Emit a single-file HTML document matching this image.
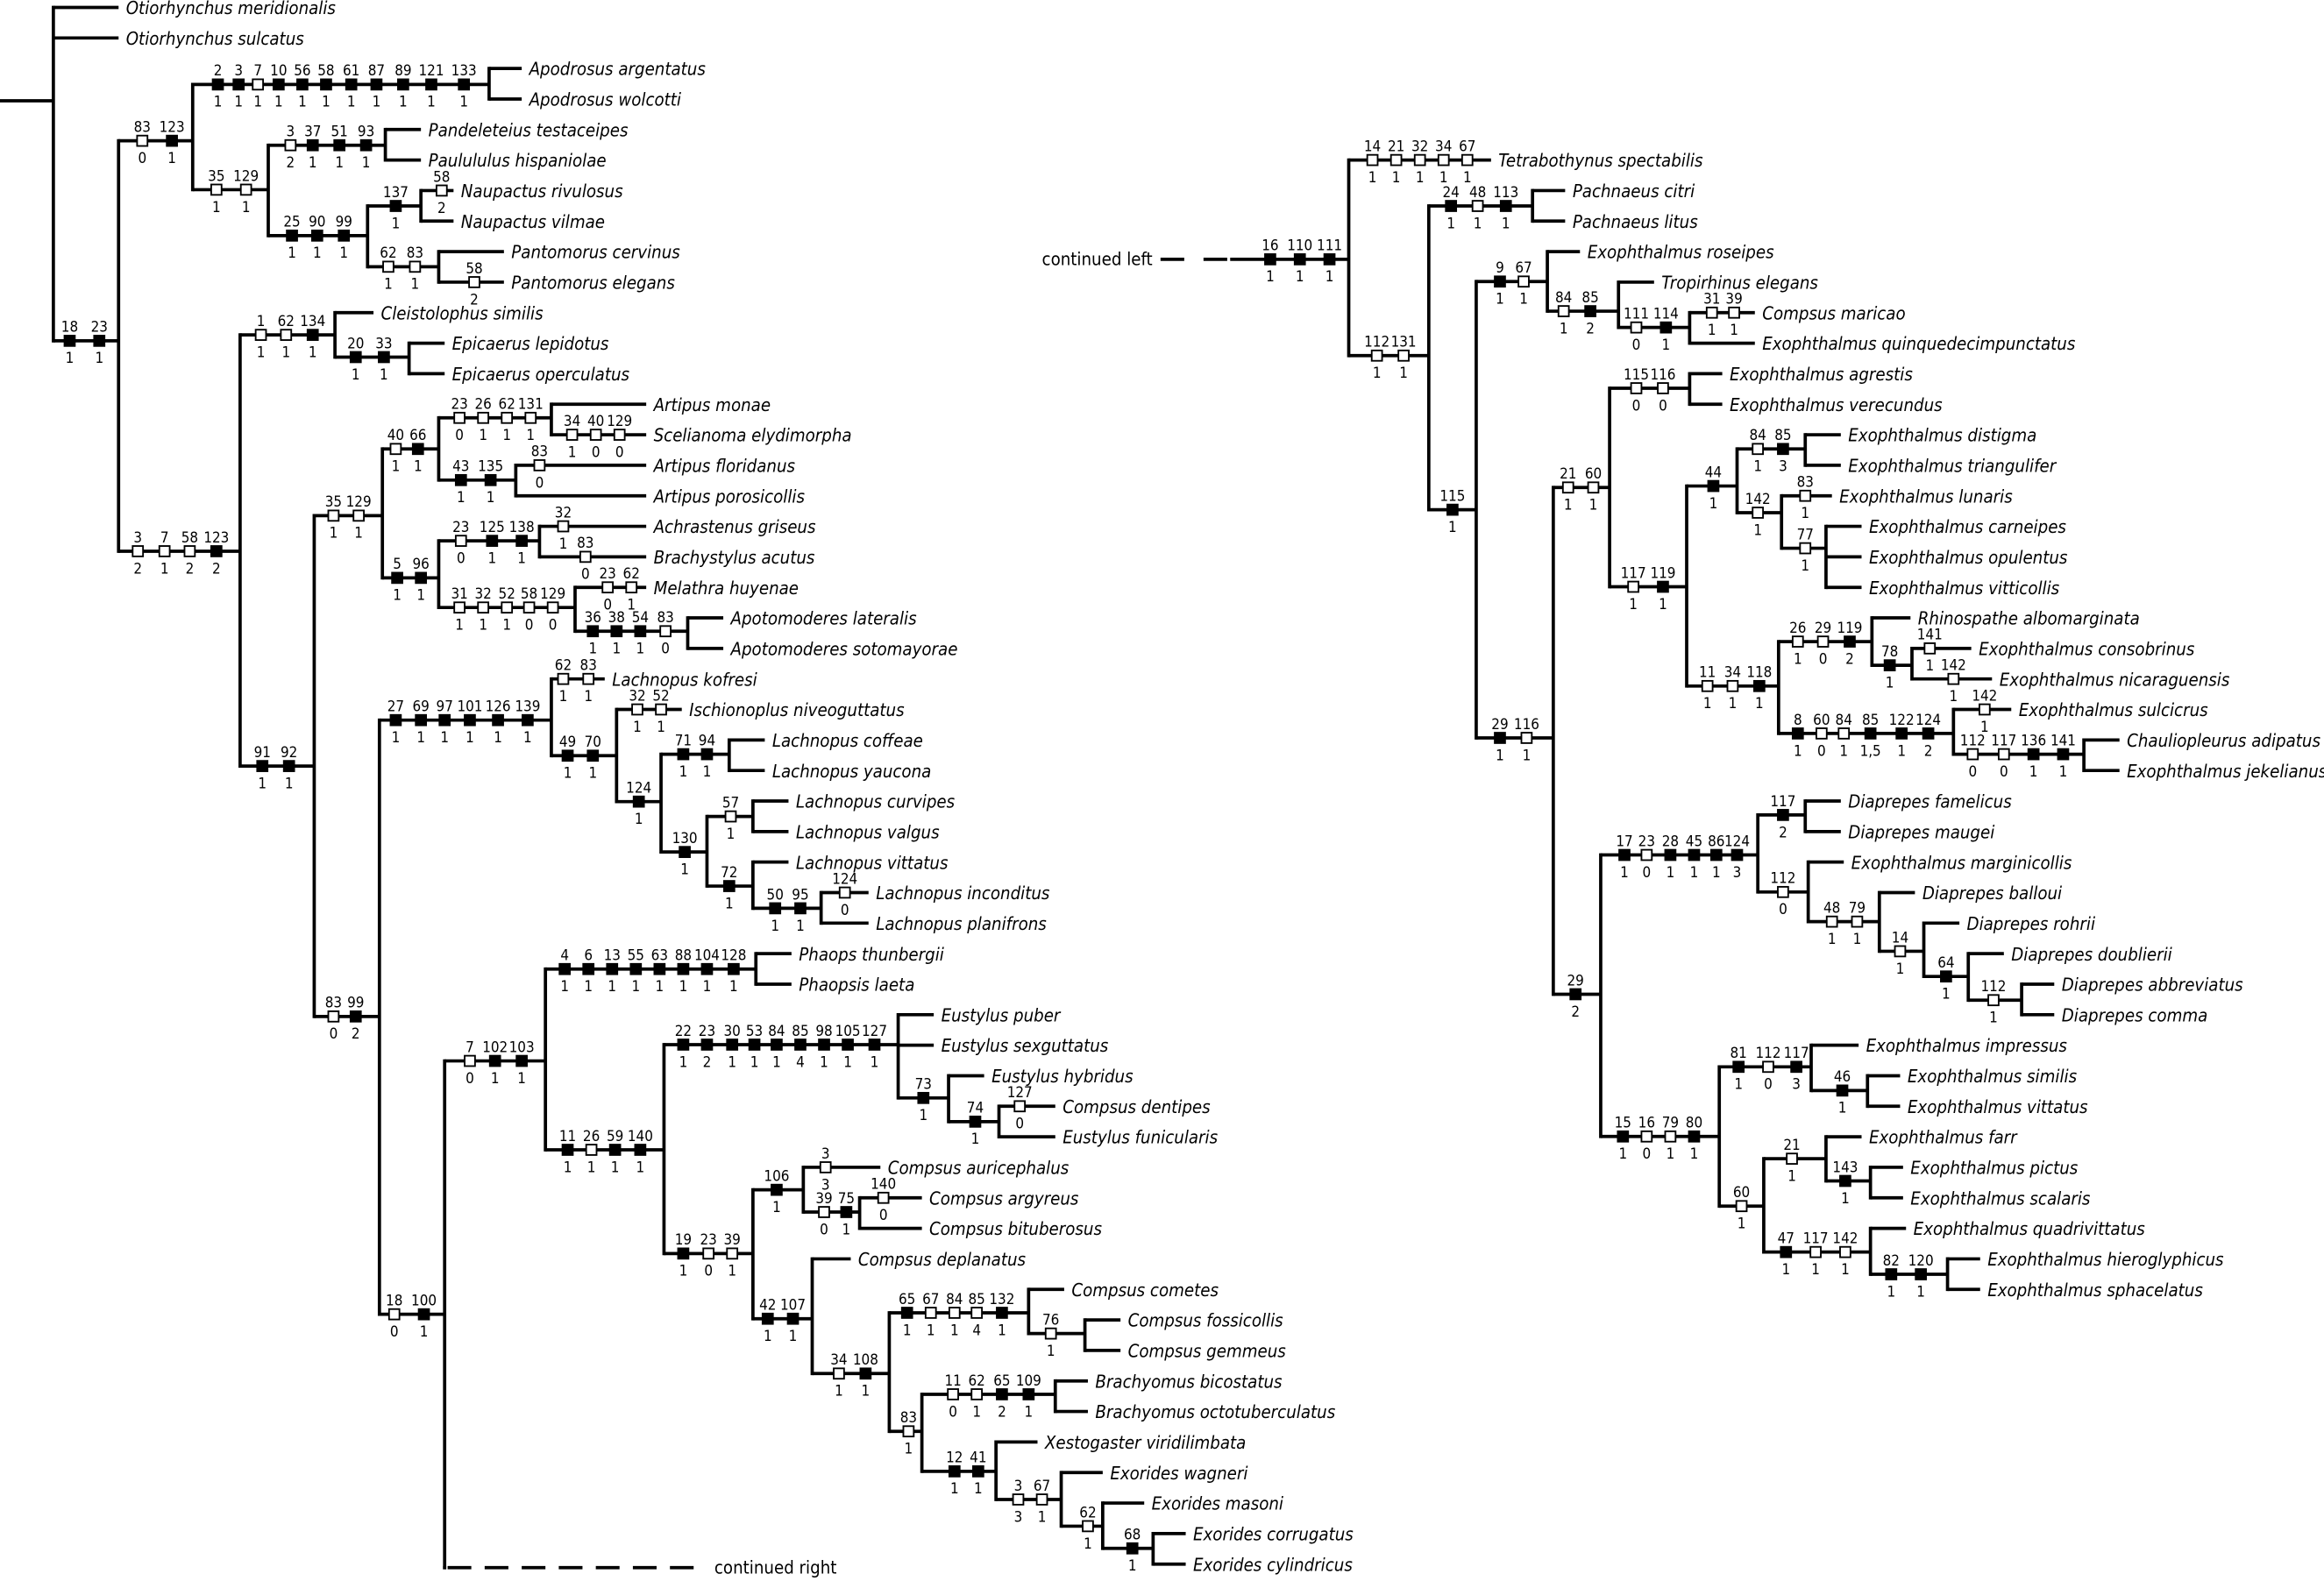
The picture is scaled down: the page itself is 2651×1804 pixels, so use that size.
<!DOCTYPE html>
<html><head><meta charset="utf-8"><style>
html,body{margin:0;padding:0;background:#fff;}
svg{display:block}
text{font-family:"DejaVu Sans Condensed","DejaVu Sans","Liberation Sans",sans-serif;fill:#000}
.lf{font-style:italic;font-size:12px}
.n{font-size:10px;text-anchor:middle}
</style></head><body>
<svg id="s" width="2651" height="1804" viewBox="0 0 1568 1067" xmlns="http://www.w3.org/2000/svg">
<g id="g" stroke="#000" stroke-width="2.2" fill="none"></g>
<g id="t"></g>
</svg>
<script>
const L=i=>5+20.6*i, R=r=>5+20.6*(r+5);
function N(x,y,m,c){return {x,y,m,c};}
function T(x,y,name,m){return {x,y,m:m||"",name};}
const lines=[],boxes=[],texts=[];
function marks(m,y){ if(!m)return; m.trim().split(/\s+/).forEach(s=>{const r=/^(\d+)([fo])(\d+),(.+)$/.exec(s); if(!r)return;
 const x=+r[1]; boxes.push(`<rect x="${x-3.5}" y="${y-3.5}" width="7" height="7" fill="${r[2]=='f'?'#000':'#fff'}" stroke="#000" stroke-width="1.1"/>`);
 texts.push(`<text class="n" x="${x}" y="${y-6}">${r[3]}</text>`);
 texts.push(`<text class="n" x="${x}" y="${y+15}">${r[4]}</text>`);});}
function draw(n,px){
 lines.push(`<line x1="${px}" y1="${n.y}" x2="${n.x}" y2="${n.y}"/>`);
 marks(n.m,n.y);
 if(n.c){const ys=n.c.map(c=>c.y).concat([n.y]);
  lines.push(`<line x1="${n.x}" y1="${Math.min(...ys)-1.1}" x2="${n.x}" y2="${Math.max(...ys)+1.1}"/>`);
  n.c.forEach(c=>draw(c,n.x));}
 else texts.push(`<text class="lf" x="${n.x+5}" y="${n.y+4.5}">${n.name}</text>`);
}
// LEFT TREE
const E=N(330,57,"147f2,1 161f3,1 174o7,1 188f10,1 204f56,1 220f58,1 237f61,1 254f87,1 272f89,1 291f121,1 313f133,1",[T(352,L(2),'Apodrosus argentatus'),T(352,L(3),'Apodrosus wolcotti')]);
const G=N(260,98,"196o3,2 211f37,1 229f51,1 247f93,1",[T(284,L(4),'Pandeleteius testaceipes'),T(284,L(5),'Paulululus hispaniolae')]);
const I=N(284,139,"267f137,1",[T(306,L(6),'Naupactus rivulosus',"298o58,2"),T(306,L(7),'Naupactus vilmae')]);
const J=N(296,180,"262o62,1 280o83,1",[T(340,L(8),'Pantomorus cervinus'),T(340,L(9),'Pantomorus elegans',"320o58,2")]);
const H=N(248,159,"197f25,1 214f90,1 232f99,1",[I,J]);
const F=N(181,128,"146o35,1 166o129,1",[G,H]);
const C=N(130,95,"96o83,0 116f123,1",[E,F]);
const M=N(276,241,"240f20,1 259f33,1",[T(300,L(11),'Epicaerus lepidotus'),T(300,L(12),'Epicaerus operculatus')]);
const K=N(226,226,"176o1,1 193o62,1 211f134,1",[T(252,L(10),'Cleistolophus similis'),M]);
const Rr=N(372,282,"310o23,0 326o26,1 342o62,1 358o131,1",[T(436,L(13),'Artipus monae'),T(436,L(14),'Scelianoma elydimorpha',"386o34,1 402o40,0 418o129,0")]);
const Ss=N(348,324,"311f43,1 331f135,1",[T(436,L(15),'Artipus floridanus',"364o83,0"),T(436,L(16),'Artipus porosicollis')]);
const P=N(296,303,"267o40,1 282f66,1",[Rr,Ss]);
const U=N(364,365,"311o23,0 332f125,1 352f138,1",[T(436,L(17),'Achrastenus griseus',"380o32,1"),T(436,L(18),'Brachystylus acutus',"395o83,0")]);
const W=N(464,426,"400f36,1 416f38,1 432f54,1 449o83,0",[T(488,L(20),'Apotomoderes lateralis'),T(488,L(21),'Apotomoderes sotomayorae')]);
const V=N(388,410,"310o31,1 326o32,1 342o52,1 357o58,0 373o129,0",[T(436,L(19),'Melathra huyenae',"410o23,0 426o62,1"),W]);
const Q=N(296,390,"268f5,1 284f96,1",[U,V]);
const Nn=N(258,348,"225o35,1 242o129,1",[P,Q]);
const AB=N(492,509,"461f71,1 477f94,1",[T(516,L(24),'Lachnopus coffeae'),T(516,L(25),'Lachnopus yaucona')]);
const AD=N(508,551,"493o57,1",[T(532,L(26),'Lachnopus curvipes'),T(532,L(27),'Lachnopus valgus')]);
const AF=N(554,613,"523f50,1 540f95,1",[T(586,L(29),'Lachnopus inconditus',"570o124,0"),T(586,L(30),'Lachnopus planifrons')]);
const AE=N(508,598,"492f72,1",[T(532,L(28),'Lachnopus vittatus'),AF]);
const AC=N(477,575,"462f130,1",[AD,AE]);
const AA=N(446,541,"431f124,1",[AB,AC]);
const Z=N(416,510,"383f49,1 400f70,1",[T(460,L(23),'Ischionoplus niveoguttatus',"430o32,1 446o52,1"),AA]);
const X=N(372,486,"267f27,1 284f69,1 300f97,1 317f101,1 336f126,1 356f139,1",[T(408,L(22),'Lachnopus kofresi',"380o62,1 397o83,1"),Z]);
const AH=N(510,654,"381f4,1 397f6,1 413f13,1 429f55,1 445f63,1 461f88,1 477f104,1 495f128,1",[T(534,L(31),'Phaops thunbergii'),T(534,L(32),'Phaopsis laeta')]);
const AM=N(674,757,"658f74,1",[T(712,L(36),'Compsus dentipes',"688o127,0"),T(712,L(37),'Eustylus funicularis')]);
const AL=N(640,741,"623f73,1",[T(664,L(35),'Eustylus hybridus'),AM]);
const AJ=N(606,705,"461f22,1 477f23,2 494f30,1 509f53,1 524f84,1 540f85,4 556f98,1 572f105,1 590f127,1",[T(630,L(33),'Eustylus puber'),T(630,L(34),'Eustylus sexguttatus'),AL]);
const AP=N(580,818,"556o39,0 571f75,1",[T(622,L(39),'Compsus argyreus',"596o140,0"),T(622,L(40),'Compsus bituberosus')]);
const AN=N(542,803,"524f106,1",[T(594,L(38),'Compsus auricephalus',"557o3,3"),AP]);
const AT=N(732,900,"709o76,1",[T(756,L(43),'Compsus fossicollis'),T(756,L(44),'Compsus gemmeus')]);
const AR=N(694,886,"612f65,1 628o67,1 644o84,1 659o85,4 676f132,1",[T(718,L(42),'Compsus cometes'),AT]);
const AU=N(712,941,"643o11,0 659o62,1 676f65,2 694f109,1",[T(734,L(45),'Brachyomus bicostatus'),T(734,L(46),'Brachyomus octotuberculatus')]);
const AY=N(778,1045,"764f68,1",[T(800,L(50),'Exorides corrugatus'),T(800,L(51),'Exorides cylindricus')]);
const AX=N(744,1030,"734o62,1",[T(772,L(49),'Exorides masoni'),AY]);
const AW=N(716,1012,"687o3,3 703o67,1",[T(744,L(48),'Exorides wagneri'),AX]);
const AV=N(672,993,"644f12,1 660f41,1",[T(700,L(47),'Xestogaster viridilimbata'),AW]);
const AS=N(622,966,"613o83,1",[AU,AV]);
const AQ=N(600,927,"566o34,1 584f108,1",[AR,AS]);
const AO=N(548,890,"518f42,1 535f107,1",[T(574,L(41),'Compsus deplanatus'),AQ]);
const AK=N(508,846,"461f19,1 478o23,0 494o39,1",[AN,AO]);
const AI=N(448,776,"383f11,1 399o26,1 415f59,1 432f140,1",[AJ,AK]);
const AG=N(368,716,"317o7,0 334f102,1 352f103,1",[AH,AI]);
const Y=N(300,887,"266o18,0 286f100,1",[AG,{x:300,y:1058,c:[],m:""}]);
const O=N(256,686,"225o83,0 240f99,2",[X,Y]);
const Lc=N(212,517,"177f91,1 195f92,1",[Nn,O]);
const D=N(162,372,"93o3,2 111o7,1 128o58,2 146f123,2",[K,Lc]);
const B=N(80,230,"47f18,1 67f23,1",[C,D]);
const A=N(36,68,"",[T(80,L(0),'Otiorhynchus meridionalis'),T(80,L(1),'Otiorhynchus sulcatus'),B]);
// RIGHT TREE
const R3=N(1034,139,"979f24,1 997o48,1 1016f113,1",[T(1056,R(1),'Pachnaeus citri'),T(1056,R(2),'Pachnaeus litus')]);
const R8=N(1140,221,"1104o111,0 1124f114,1",[T(1184,R(5),'Compsus maricao',"1155o31,1 1170o39,1"),T(1184,R(6),'Exophthalmus quinquedecimpunctatus')]);
const R7=N(1092,210,"1055o84,1 1073f85,2",[T(1116,R(4),'Tropirhinus elegans'),R8]);
const R5=N(1044,190,"1012f9,1 1028o67,1",[T(1066,R(3),'Exophthalmus roseipes'),R7]);
const R11=N(1140,262,"1104o115,0 1122o116,0",[T(1162,R(7),'Exophthalmus agrestis'),T(1162,R(8),'Exophthalmus verecundus')]);
const R15=N(1218,303,"1186o84,1 1203f85,3",[T(1242,R(9),'Exophthalmus distigma'),T(1242,R(10),'Exophthalmus triangulifer')]);
const R17=N(1232,370,"1218o77,1",[T(1256,R(12),'Exophthalmus carneipes'),T(1256,R(13),'Exophthalmus opulentus'),T(1256,R(14),'Exophthalmus vitticollis')]);
const R16=N(1202,346,"1186o142,1",[T(1236,R(11),'Exophthalmus lunaris',"1218o83,1"),R17]);
const R13=N(1172,328,"1156f44,1",[R15,R16]);
const R20=N(1290,449,"1275f78,1",[T(1330,R(16),'Exophthalmus consobrinus',"1302o141,1"),T(1344,R(17),'Exophthalmus nicaraguensis',"1318o142,1")]);
const R18=N(1263,433,"1213o26,1 1230o29,0 1248f119,2",[T(1289,R(15),'Rhinospathe albomarginata'),R20]);
const R21=N(1406,509,"1331o112,0 1352o117,0 1372f136,1 1392f141,1",[T(1430,R(19),'Chauliopleurus adipatus'),T(1430,R(20),'Exophthalmus jekelianus')]);
const R19=N(1318,495,"1213f8,1 1229o60,0 1244o84,1 1262f85,1,5 1283f122,1 1301f124,2",[T(1357,R(18),'Exophthalmus sulcicrus',"1339o142,1"),R21]);
const R14=N(1200,463,"1152o11,1 1169o34,1 1187f118,1",[R18,R19]);
const R12=N(1138,396,"1102o117,1 1122f119,1",[R13,R14]);
const R9=N(1086,329,"1058o21,1 1075o60,1",[R11,R12]);
const R24=N(1218,550,"1203f117,2",[T(1242,R(21),'Diaprepes famelicus'),T(1242,R(22),'Diaprepes maugei')]);
const R29=N(1364,675,"1345o112,1",[T(1386,R(27),'Diaprepes abbreviatus'),T(1386,R(28),'Diaprepes comma')]);
const R28=N(1328,659,"1313f64,1",[T(1352,R(26),'Diaprepes doublierii'),R29]);
const R27=N(1298,642,"1282o14,1",[T(1322,R(25),'Diaprepes rohrii'),R28]);
const R26=N(1268,622,"1236o48,1 1253o79,1",[T(1292,R(24),'Diaprepes balloui'),R27]);
const R25=N(1220,602,"1203o112,0",[T(1244,R(23),'Exophthalmus marginicollis'),R26]);
const R22=N(1186,577,"1096f17,1 1111o23,0 1127f28,1 1143f45,1 1158f86,1 1172f124,3",[R24,R25]);
const R32=N(1260,736,"1243f46,1",[T(1282,R(30),'Exophthalmus similis'),T(1282,R(31),'Exophthalmus vittatus')]);
const R30=N(1222,720,"1173f81,1 1193o112,0 1212f117,3",[T(1254,R(29),'Exophthalmus impressus'),R32]);
const R34=N(1262,797,"1245f143,1",[T(1284,R(33),'Exophthalmus pictus'),T(1284,R(34),'Exophthalmus scalaris')]);
const R33=N(1232,782,"1209o21,1",[T(1256,R(32),'Exophthalmus farr'),R34]);
const R36=N(1314,860,"1276f82,1 1296f120,1",[T(1336,R(36),'Exophthalmus hieroglyphicus'),T(1336,R(37),'Exophthalmus sphacelatus')]);
const R35=N(1262,845,"1205f47,1 1225o117,1 1245o142,1",[T(1286,R(35),'Exophthalmus quadrivittatus'),R36]);
const R31=N(1190,814,"1175o60,1",[R33,R35]);
const R23=N(1160,767,"1095f15,1 1111o16,0 1127o79,1 1143f80,1",[R30,R31]);
const R10=N(1080,671,"1063f29,2",[R22,R23]);
const R6=N(1048,498,"1012f29,1 1030o116,1",[R9,R10]);
const R4=N(996,344,"980f115,1",[R5,R6]);
const R2=N(964,240,"929o112,1 947o131,1",[R3,R4]);
const R0=N(910,175,"857f16,1 877f110,1 897f111,1",[T(1006,R(0),'Tetrabothynus spectabilis',"926o14,1 942o21,1 958o32,1 974o34,1 990o67,1"),R2]);
draw(A,0);
draw(R0,830);
const ph=`<line x1="300" y1="1058" x2="300" y2="1058"/>`;
let ls=lines.filter(l=>l!==ph);
ls.push(`<line x1="302" y1="1058" x2="472" y2="1058" stroke-dasharray="16,9"/>`);
ls.push(`<line x1="783" y1="175" x2="830" y2="175" stroke-dasharray="16,13"/>`);
texts.push(`<text x="482" y="1062" style="font-size:12px">continued right</text>`);
texts.push(`<text x="703" y="179" style="font-size:12px">continued left</text>`);
document.getElementById('g').innerHTML=ls.join('');
document.getElementById('t').innerHTML=boxes.join('')+texts.join('');
</script>
</body></html>
